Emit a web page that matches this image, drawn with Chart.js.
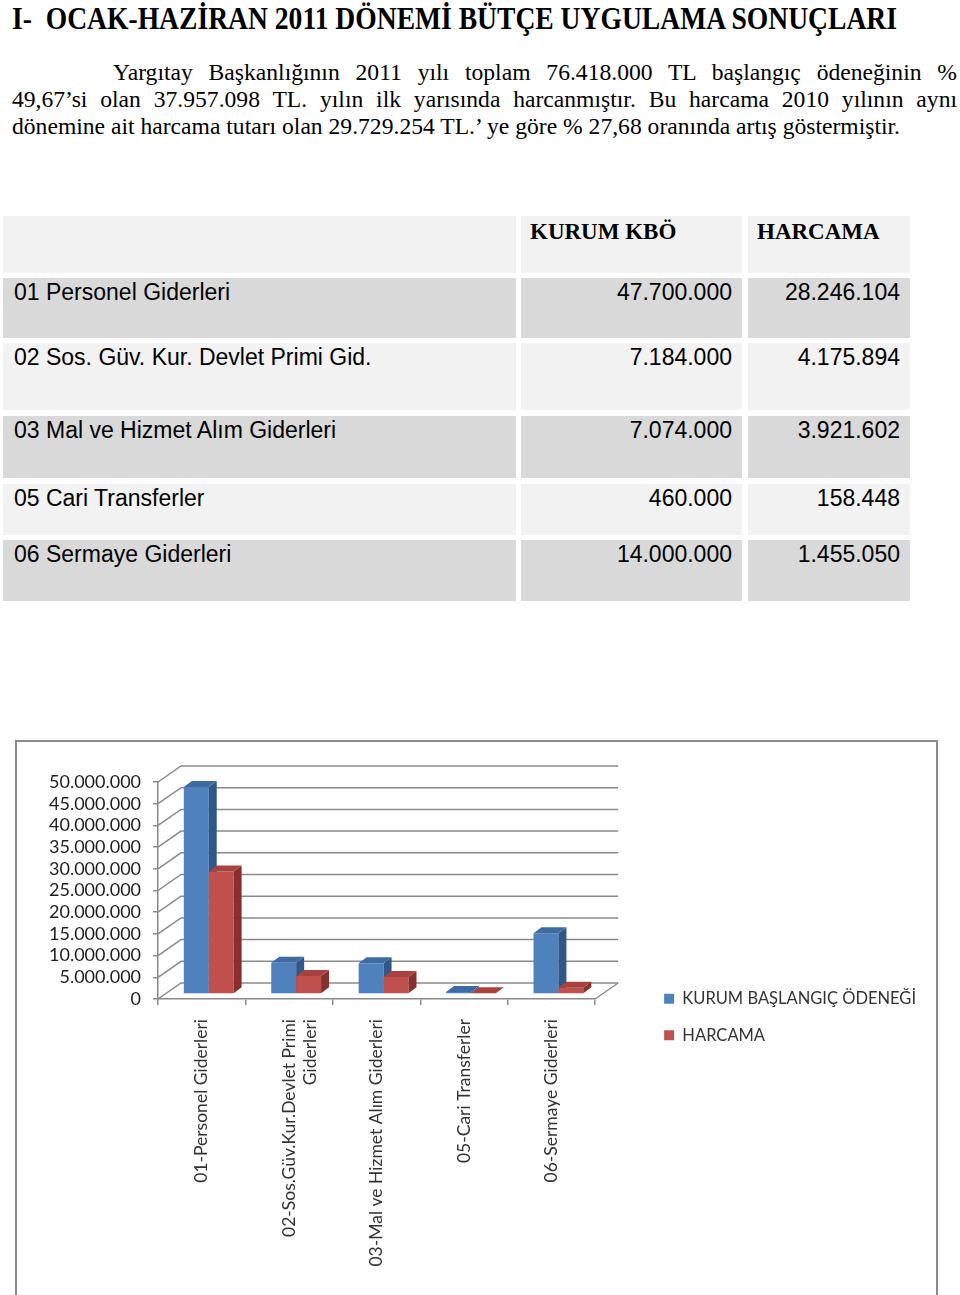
<!DOCTYPE html>
<html lang="tr">
<head>
<meta charset="utf-8">
<title>Bütçe Uygulama Sonuçları</title>
<script src="https://cdn.jsdelivr.net/npm/chart.js@4.4.1/dist/chart.umd.min.js"></script>
<style>
  html, body { margin: 0; padding: 0; background: #fff; }
  body { width: 960px; height: 1295px; position: relative; overflow: hidden; color: #000; }
  .serif { font-family: 'Liberation Serif', 'Times New Roman', serif; }
  #title { position: absolute; left: 12px; top: 0px; font-weight: bold; font-size: 32px; line-height: 36px; white-space: nowrap; transform-origin: 0 0; }
  #para { position: absolute; left: 12px; top: 59px; width: 945px; font-size: 24px; line-height: 27px; transform-origin: 0 0; }
  #para div { white-space: nowrap; }
  #para .just { text-align: justify; text-align-last: justify; white-space: normal; }
  .cell { position: absolute; box-sizing: border-box; font-family: 'Liberation Sans', Arial, sans-serif; font-size: 23px; line-height: 27px; padding: 1px 10px 0 11px; white-space: nowrap; }
  .cell.head { font-family: 'Liberation Serif', 'Times New Roman', serif; font-weight: bold; padding-left: 9px; padding-top: 2px; }
  .num { text-align: right; }
  #box { position: absolute; left: 15px; top: 740px; width: 923px; height: 590px; box-sizing: border-box; border: 2px solid #8a8a8a; }
  #wrap { position: absolute; left: 0; top: 0; width: 919px; height: 550px; }
</style>
</head>
<body>

<div id="title" class="serif">I-&nbsp; OCAK-HAZİRAN 2011 DÖNEMİ BÜTÇE UYGULAMA SONUÇLARI</div>

<div id="para" class="serif">
  <div class="just" id="l1">Yargıtay Başkanlığının 2011 yılı toplam 76.418.000 TL başlangıç ödeneğinin %</div>
  <div class="just">49,67’si olan 37.957.098 TL. yılın ilk yarısında harcanmıştır. Bu harcama 2010 yılının aynı</div>
  <div><span id="l3">dönemine ait harcama tutarı olan 29.729.254 TL.’ ye göre % 27,68 oranında artış göstermiştir.</span></div>
</div>

<div id="table"></div>

<div id="box"><div id="wrap"><canvas id="chart"></canvas></div></div>

<script>
// ---- data ----
const categories = [
  '01-Personel Giderleri',
  ['02-Sos.Güv.Kur.Devlet Primi', 'Giderleri'],
  '03-Mal ve Hizmet Alım Giderleri',
  '05-Cari Transferler',
  '06-Sermaye Giderleri'
];
const tableLabels = [
  '01 Personel Giderleri',
  '02 Sos. Güv. Kur. Devlet Primi Gid.',
  '03 Mal ve Hizmet Alım Giderleri',
  '05 Cari Transferler',
  '06 Sermaye Giderleri'
];
const tableHeads = ['KURUM KBÖ', 'HARCAMA'];
const seriesNames = ['KURUM BAŞLANGIÇ ÖDENEĞİ', 'HARCAMA'];
const kbo = [47700000, 7184000, 7074000, 460000, 14000000];
const harcama = [28246104, 4175894, 3921602, 158448, 1455050];
const yTicks = [0, 5000000, 10000000, 15000000, 20000000, 25000000, 30000000, 35000000, 40000000, 45000000, 50000000];

const fmt = v => String(v).replace(/\B(?=(\d{3})+(?!\d))/g, '.');

// ---- text block, squeezed like the scan ----
function squeeze() {
  const title = document.getElementById('title');
  title.style.transform = 'none';
  title.style.transform = 'scaleX(' + (885 / title.getBoundingClientRect().width) + ')';

  const para = document.getElementById('para');
  para.style.transform = 'none';
  para.style.width = '945px';
  const k = 888 / document.getElementById('l3').getBoundingClientRect().width;
  para.style.width = (945 / k) + 'px';
  document.getElementById('l1').style.paddingLeft = (101 / k) + 'px';
  para.style.transform = 'scaleX(' + k + ')';
}
squeeze();
if (document.fonts) document.fonts.ready.then(squeeze);

// ---- table ----
const cols = [[3, 513], [521, 221], [748, 162]];
const rows = [[216, 57], [278, 60], [343, 67], [416, 62], [484, 51], [540, 61]];
const light = '#f2f2f2', dark = '#d9d9d9';
const tbl = document.getElementById('table');

function cell(col, row, text, cls, bg) {
  const d = document.createElement('div');
  d.className = 'cell ' + cls;
  d.style.left = cols[col][0] + 'px';
  d.style.width = cols[col][1] + 'px';
  d.style.top = rows[row][0] + 'px';
  d.style.height = rows[row][1] + 'px';
  d.style.background = bg;
  d.textContent = text;
  tbl.appendChild(d);
}

cell(0, 0, '', 'head', light);
cell(1, 0, tableHeads[0], 'head', light);
cell(2, 0, tableHeads[1], 'head', light);
tableLabels.forEach((name, i) => {
  const bg = i % 2 === 0 ? dark : light;
  cell(0, i + 1, name, '', bg);
  cell(1, i + 1, fmt(kbo[i]), 'num', bg);
  cell(2, i + 1, fmt(harcama[i]), 'num', bg);
});

// ---- chart ----
Chart.defaults.font.family = 'Lato';
Chart.defaults.color = '#1e1e1e';

const GRID = '#8a8a8a';
const DEPTH_X = 23, DEPTH_Y = -16;   // floor / wall depth
const BAR_X = 7, BAR_Y = -5;         // bars stand halfway into the floor
const SIDE_X = 8, SIDE_Y = -6;       // bar thickness
const LEGEND_GAP = 49;
const LEGEND_SHIFT_Y = -10;
const XAXIS_HEIGHT = 273;            // room for the rotated category names

const box3d = {
  id: 'box3d',
  beforeInit(chart) {
    // leave room between the plot and the legend
    const fit = chart.legend.fit;
    chart.legend.fit = function () {
      fit.call(this);
      this.width += LEGEND_GAP;
    };
  },
  afterLayout(chart) {
    const lg = chart.legend;
    lg.left += LEGEND_GAP;
    lg.top += LEGEND_SHIFT_Y;
    lg.bottom += LEGEND_SHIFT_Y;
  },
  beforeDatasetsDraw(chart) {
    const { ctx, chartArea: a, scales: { y } } = chart;
    ctx.save();

    // back wall + left wall diagonals
    ctx.strokeStyle = GRID;
    ctx.lineWidth = 1.5;
    y.ticks.forEach(t => {
      const py = y.getPixelForValue(t.value);
      ctx.beginPath();
      ctx.moveTo(a.left, py);
      ctx.lineTo(a.left + DEPTH_X, py + DEPTH_Y);
      ctx.lineTo(a.right + DEPTH_X, py + DEPTH_Y);
      ctx.stroke();
    });
    const p0 = y.getPixelForValue(0);
    ctx.beginPath();
    ctx.moveTo(a.right, p0);
    ctx.lineTo(a.right + DEPTH_X, p0 + DEPTH_Y);
    ctx.stroke();

    // bars, category by category so the red front hides the blue side
    const poly = (pts, color) => {
      ctx.fillStyle = color;
      ctx.beginPath();
      ctx.moveTo(pts[0][0], pts[0][1]);
      pts.slice(1).forEach(p => ctx.lineTo(p[0], p[1]));
      ctx.closePath();
      ctx.fill();
    };
    chart.data.labels.forEach((_, j) => {
      chart.data.datasets.forEach((ds, i) => {
        const bar = chart.getDatasetMeta(i).data[j];
        const { x, y: top, base, width } = bar.getProps(['x', 'y', 'base', 'width'], true);
        const l = x - width / 2 + BAR_X, r = x + width / 2 + BAR_X;
        const t = Math.min(top, base) + BAR_Y, b = base + BAR_Y;
        poly([[l, t], [r, t], [r, b], [l, b]], ds.backgroundColor);
        poly([[r, t], [r + SIDE_X, t + SIDE_Y], [r + SIDE_X, b + SIDE_Y], [r, b]], ds.sideColor);
        poly([[l, t], [l + SIDE_X, t + SIDE_Y], [r + SIDE_X, t + SIDE_Y], [r, t]], ds.topColor);
      });
    });

    ctx.restore();
    return false;
  }
};

new Chart(document.getElementById('chart'), {
  type: 'bar',
  data: {
    labels: categories,
    datasets: [
      { label: seriesNames[0], data: kbo, backgroundColor: '#4f81bd', topColor: '#3f6ba5', sideColor: '#30568a', categoryPercentage: 0.57, barPercentage: 1 },
      { label: seriesNames[1], data: harcama, backgroundColor: '#c0504d', topColor: '#a9413e', sideColor: '#88302e', categoryPercentage: 0.57, barPercentage: 1 }
    ]
  },
  options: {
    responsive: true,
    maintainAspectRatio: false,
    animation: false,
    layout: { padding: { top: 40, left: 20, right: 10, bottom: 20 } },
    plugins: {
      tooltip: { enabled: false },
      legend: {
        position: 'right',
        align: 'center',
        maxWidth: 400,
        labels: { boxWidth: 10, boxHeight: 10, padding: 20, color: '#333', font: { size: 16.5 } }
      }
    },
    scales: {
      x: {
        afterFit: s => { s.height = XAXIS_HEIGHT; },
        grid: { offset: true, drawOnChartArea: false, tickLength: 6, color: GRID, lineWidth: 1.5 },
        border: { color: GRID, width: 1.5 },
        ticks: { minRotation: 90, maxRotation: 90, autoSkip: false, padding: 14, color: '#333', font: { size: 17.5 } }
      },
      y: {
        min: 0,
        max: 50000000,
        afterBuildTicks: s => { s.ticks = yTicks.map(v => ({ value: v })); },
        grid: { drawOnChartArea: false, tickLength: 5, color: GRID, lineWidth: 1.5 },
        border: { color: GRID, width: 1.5 },
        ticks: { autoSkip: false, padding: 12, color: '#1e1e1e', font: { size: 18 }, callback: v => fmt(v) }
      }
    }
  },
  plugins: [box3d]
});
</script>
</body>
</html>
